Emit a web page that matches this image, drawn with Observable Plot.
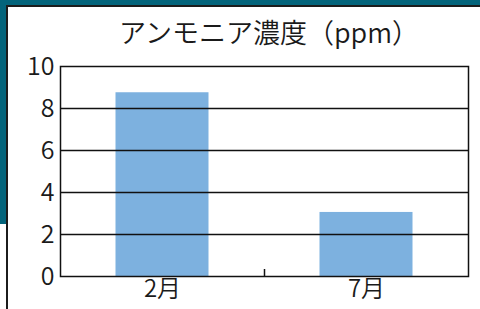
<!DOCTYPE html>
<html>
<head>
<meta charset="utf-8">
<script src="https://cdn.jsdelivr.net/npm/d3@7"></script>
<script src="https://cdn.jsdelivr.net/npm/@observablehq/plot@0.6"></script>
<style>
  html, body { margin: 0; padding: 0; background: #ffffff; }
  #wrap { position: relative; width: 480px; height: 309px; overflow: hidden; font-family: "Noto Sans CJK JP", sans-serif; }
  #teal { position: absolute; left: 0; top: 0; width: 480px; height: 224px; background: #03647b; }
  #panel { position: absolute; left: 6px; top: 5px; width: 480px; height: 320px; background: #fff;
           border-left: 2px solid #1c1c1c; border-top: 2px solid #1c1c1c; }
  #title { position: absolute; left: 6px; top: 12px; width: 526px; text-align: center; font-size: 27px; font-weight: 350; color: #1a1a1a; white-space: nowrap; }
  #chart { position: absolute; left: 0; top: 0; }
</style>
</head>
<body>
<div id="wrap">
  <div id="teal"></div>
  <div id="panel"></div>
  <div id="title">アンモニア濃度（ppm）</div>
  <div id="chart"></div>
</div>
<script>
const categories = ["2月", "7月"];
const values = [8.75, 3.05];
const yTicks = [0, 2, 4, 6, 8, 10];

const data = categories.map((c, i) => ({month: c, value: values[i]}));

const W = 480, H = 309, mL = 60, mR = 12, mT = 66, mB = 33;
const step = (W - mL - mR) / categories.length;
const barW = 93;
const inset = (step - barW) / 2;

const chart = Plot.plot({
  width: W,
  height: H,
  marginLeft: mL,
  marginRight: mR,
  marginTop: mT,
  marginBottom: mB,
  style: { background: "transparent", fontFamily: "'Noto Sans CJK JP', sans-serif", fontWeight: 350, color: "#1a1a1a", overflow: "visible" },
  x: { domain: categories, padding: 0 },
  y: { domain: [0, 10] },
  marks: [
    Plot.barY(data, { x: "month", y: "value", fill: "#7db1df", insetLeft: inset, insetRight: inset }),
    Plot.gridY(yTicks.slice(1, -1), { stroke: "#111", strokeOpacity: 1, strokeWidth: 1.3 }),
    Plot.frame({ stroke: "#111", strokeWidth: 1.5 }),
    Plot.ruleX(categories.slice(1), { x: d => d, dx: -step / 2, insetTop: (H - mT - mB) - 7, stroke: "#111", strokeWidth: 1.5 }),
    Plot.axisY(yTicks, { tickSize: 0, tickPadding: 6, fontSize: 25, fill: "#1a1a1a", label: null }),
    Plot.axisX({ tickSize: 0, tickPadding: 3, fontSize: 24, fill: "#1a1a1a", label: null })
  ]
});
document.getElementById("chart").appendChild(chart);
</script>
</body>
</html>
